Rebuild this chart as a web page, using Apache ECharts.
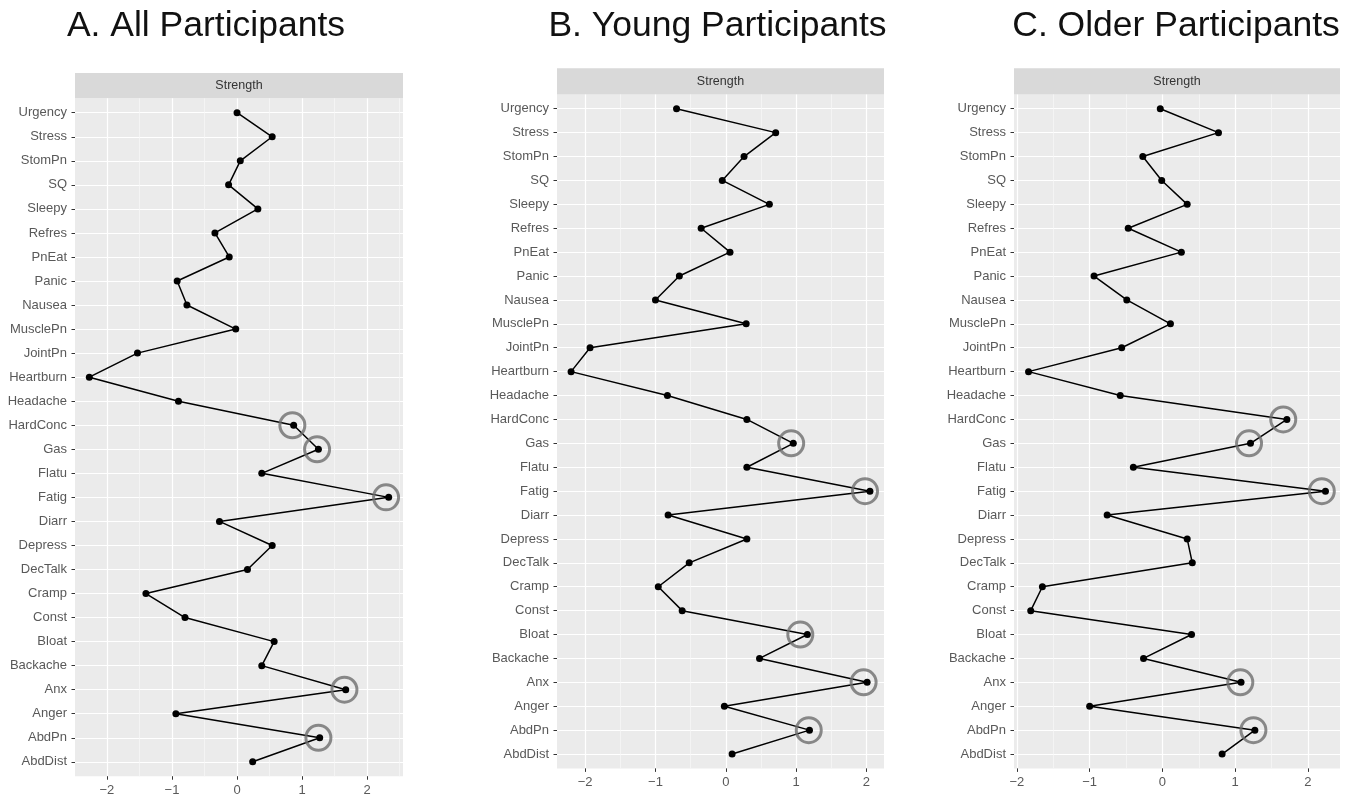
<!DOCTYPE html>
<html><head><meta charset="utf-8">
<script src="https://cdn.jsdelivr.net/npm/echarts@6/dist/echarts.min.js"></script>
<style>html,body{margin:0;padding:0;background:#fff}#c{width:1358px;height:800px}</style>
</head><body><div id="c"></div>
<script>
// ---------- DATA ----------
const categories = ['Urgency','Stress','StomPn','SQ','Sleepy','Refres','PnEat','Panic','Nausea','MusclePn','JointPn','Heartburn','Headache','HardConc','Gas','Flatu','Fatig','Diarr','Depress','DecTalk','Cramp','Const','Bloat','Backache','Anx','Anger','AbdPn','AbdDist'];
const panelTitles = ['A. All Participants','B. Young Participants','C. Older Participants'];
const stripLabel = 'Strength';
const xTickValues = [-2,-1,0,1,2];
const xMinorValues = [-2.5,-1.5,-0.5,0.5,1.5,2.5];

const strengthAll   = [0.00, 0.54, 0.05, -0.13, 0.32, -0.34, -0.12, -0.92, -0.77, -0.02, -1.53, -2.27, -0.90, 0.87, 1.25, 0.38, 2.33, -0.27, 0.54, 0.16, -1.40, -0.80, 0.57, 0.38, 1.67, -0.94, 1.27, 0.24];
const strengthYoung = [-0.70, 0.71, 0.26, -0.05, 0.62, -0.35, 0.06, -0.66, -1.00, 0.29, -1.93, -2.20, -0.83, 0.30, 0.96, 0.30, 2.05, -0.82, 0.30, -0.52, -0.96, -0.62, 1.16, 0.48, 2.01, -0.02, 1.19, 0.09];
const strengthOlder = [-0.03, 0.77, -0.27, -0.01, 0.34, -0.47, 0.26, -0.94, -0.49, 0.11, -0.56, -1.84, -0.58, 1.71, 1.21, -0.40, 2.24, -0.76, 0.34, 0.41, -1.65, -1.81, 0.40, -0.26, 1.08, -1.00, 1.27, 0.82];

// highlighted (circled) nodes
const circledAllCats   = ['HardConc','Gas','Fatig','Anx','AbdPn'];
const circledAllX      = [0.85, 1.23, 2.29, 1.65, 1.25];
const circledYoungCats = ['Gas','Fatig','Bloat','Anx','AbdPn'];
const circledYoungX    = [0.93, 1.98, 1.06, 1.96, 1.18];
const circledOlderCats = ['HardConc','Gas','Fatig','Anx','AbdPn'];
const circledOlderX    = [1.66, 1.19, 2.19, 1.07, 1.25];

// ---------- LAYOUT ----------
const layout = [
  {left: 75,  right: 403, top: 98.3, band: 24.04, xmin: -2.49, xmax: 2.55, titleX: 206,  stripTop: 73},
  {left: 557, right: 884, top: 94.4, band: 23.9,  xmin: -2.40, xmax: 2.25, titleX: 717.5, stripTop: 68.3},
  {left: 1014,right: 1340,top: 94.4, band: 23.9,  xmin: -2.04, xmax: 2.44, titleX: 1176, stripTop: 68.3}
];
const seriesVals = [strengthAll, strengthYoung, strengthOlder];
const circCats = [circledAllCats, circledYoungCats, circledOlderCats];
const circX = [circledAllX, circledYoungX, circledOlderX];

const FONT = '"Liberation Sans", Arial, sans-serif';
const LABEL = '#595959';
const grids = [], xAxes = [], yAxes = [], series = [], graphics = [];
const fmt = v => (v < 0 ? '\u2212' + Math.abs(v) : String(v));

layout.forEach((L, p) => {
  const n = categories.length;
  const panelH = (n + 0.2) * L.band;
  const width = L.right - L.left;
  grids.push({left: L.left, top: L.top, width: width, height: panelH, show: true, backgroundColor: '#ebebeb', borderWidth: 0});
  grids.push({left: L.left, top: L.top + 0.1 * L.band, width: width, height: n * L.band, show: false});
  const gBg = 2 * p, gData = 2 * p + 1;
  xAxes.push({type: 'value', gridIndex: gBg, min: L.xmin, max: L.xmax, position: 'bottom',
    axisLine: {show: false, onZero: false},
    axisTick: {show: true, length: 3.5, customValues: xTickValues, lineStyle: {color: '#333', width: 1}},
    axisLabel: {show: true, customValues: xTickValues, formatter: fmt, color: LABEL, fontSize: 13, margin: 8, fontFamily: FONT},
    splitLine: {show: true, lineStyle: {color: '#ffffff', width: 1.2}}
  });
  xAxes.push({type: 'value', gridIndex: gBg, min: L.xmin, max: L.xmax, position: 'bottom',
    axisLine: {show: false, onZero: false},
    axisTick: {show: false, customValues: xMinorValues},
    axisLabel: {show: false, customValues: xMinorValues},
    splitLine: {show: true, lineStyle: {color: '#f8f8f8', width: 0.7}}
  });
  xAxes.push({type: 'value', gridIndex: gData, min: L.xmin, max: L.xmax, show: false});
  yAxes.push({type: 'value', gridIndex: gBg, show: false});
  yAxes.push({type: 'category', gridIndex: gData, data: categories, inverse: true, boundaryGap: true, position: 'left',
    axisLine: {show: false, onZero: false},
    axisTick: {show: true, alignWithLabel: true, interval: 0, length: 3.5, lineStyle: {color: '#333', width: 1}},
    axisLabel: {interval: 0, color: LABEL, fontSize: 13, margin: 8, fontFamily: FONT},
    splitLine: {show: true, alignWithLabel: true, interval: 0, lineStyle: {color: '#ffffff', width: 1.2}}
  });
  const xi = 3 * p + 2, yi = 2 * p + 1;
  series.push({type: 'line', xAxisIndex: xi, yAxisIndex: yi, clip: false,
    data: seriesVals[p].map((v, i) => [v, categories[i]]),
    symbol: 'circle', symbolSize: 7, showSymbol: true,
    lineStyle: {color: '#000', width: 1.5}, itemStyle: {color: '#000'}, z: 3
  });
  series.push({type: 'scatter', xAxisIndex: xi, yAxisIndex: yi, clip: false,
    data: circCats[p].map((c, i) => [circX[p][i], c]),
    symbol: 'circle', symbolSize: 25,
    itemStyle: {color: 'rgba(0,0,0,0)', borderColor: '#6e6e6e', borderWidth: 3}, z: 4
  });
  graphics.push({type: 'rect', shape: {x: L.left, y: L.stripTop, width: width, height: L.top - L.stripTop}, style: {fill: '#d9d9d9'}});
  graphics.push({type: 'text', x: (L.left + L.right) / 2, y: (L.stripTop + L.top) / 2,
    style: {text: stripLabel, fontSize: 12.5, fontFamily: FONT, fill: '#333', align: 'center', verticalAlign: 'middle'}});
  graphics.push({type: 'text', x: L.titleX, y: 26.5,
    style: {text: panelTitles[p], fontSize: 35.5, fontFamily: FONT, fill: '#111', align: 'center', verticalAlign: 'middle'}});
});

const chart = echarts.init(document.getElementById('c'), null, {renderer: 'canvas'});
chart.setOption({
  animation: false,
  backgroundColor: '#ffffff',
  textStyle: {fontFamily: FONT},
  grid: grids, xAxis: xAxes, yAxis: yAxes, series: series, graphic: graphics
});
</script></body></html>
